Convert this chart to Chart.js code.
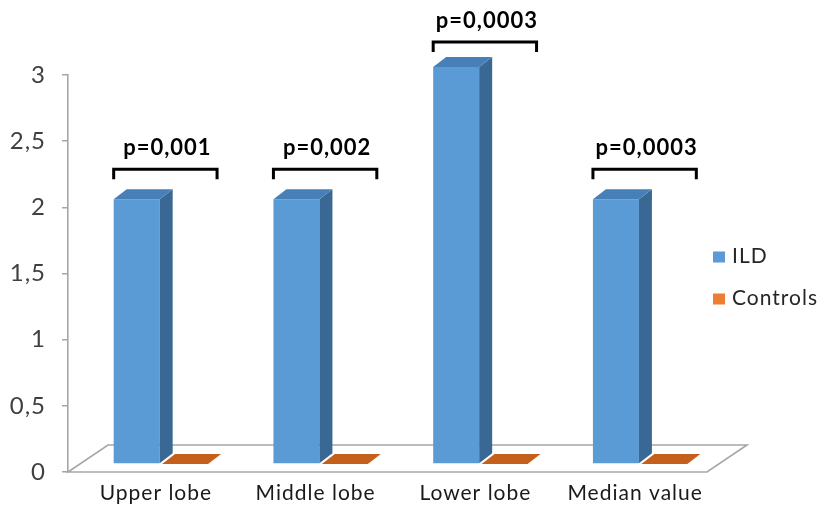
<!DOCTYPE html>
<html>
<head>
<meta charset="utf-8">
<script src="https://cdn.jsdelivr.net/npm/chart.js@4/dist/chart.umd.min.js"></script>
<style>
  html, body { margin: 0; padding: 0; background: #ffffff; }
  #wrap { width: 826px; height: 506px; }
</style>
</head>
<body>
<div id="wrap"><canvas id="c" width="826" height="506"></canvas></div>
<script>
// Lobar scores, ILD patients vs controls
const categories = ['Upper lobe', 'Middle lobe', 'Lower lobe', 'Median value'];
const seriesNames = ['ILD', 'Controls'];
const ildValues = [2, 2, 3, 2];
const controlValues = [0, 0, 0, 0];
const pLabels = ['p=0,001', 'p=0,002', 'p=0,0003', 'p=0,0003'];
const yTicks = [0, 0.5, 1, 1.5, 2, 2.5, 3];

// Colours: front face, side face, top face
const palette = {
  ILD:      { front: '#5b9bd5', side: '#3a6894', top: '#477fb8' },
  Controls: { front: '#ed7d31', side: '#a54f15', top: '#c55f1c' }
};

// Pseudo-3D geometry (pixels)
const FLOOR_DX = 40, FLOOR_DY = -27;      // depth of the floor plane
const BAR_SHIFT_X = 13, BAR_SHIFT_Y = -8; // bars stand part-way into the floor
const BAR_DX = 13, BAR_DY = -10;          // bar depth

const FONT = 'Lato, "Open Sans", "DejaVu Sans", sans-serif';

const threeD = {
  id: 'threeD',
  beforeDraw(chart) {
    // slightly wider lettering throughout
    chart.ctx.letterSpacing = '1px';
  },
  beforeDatasetsDraw(chart) {
    const { ctx, chartArea: a } = chart;
    // floor
    ctx.save();
    ctx.beginPath();
    ctx.moveTo(a.left, a.bottom);
    ctx.lineTo(a.right, a.bottom);
    ctx.lineTo(a.right + FLOOR_DX, a.bottom + FLOOR_DY);
    ctx.lineTo(a.left + FLOOR_DX, a.bottom + FLOOR_DY);
    ctx.closePath();
    ctx.fillStyle = '#ffffff';
    ctx.fill();
    ctx.strokeStyle = '#a6a6a6';
    ctx.lineWidth = 1.6;
    ctx.stroke();
    ctx.restore();
    // bars get drawn shifted back into the floor
    ctx.save();
    ctx.translate(BAR_SHIFT_X, BAR_SHIFT_Y);
  },
  afterDatasetsDraw(chart) {
    const { ctx } = chart;
    // side and top faces, last dataset first so the first sits in front
    for (let d = chart.data.datasets.length - 1; d >= 0; d--) {
      const meta = chart.getDatasetMeta(d);
      const col = palette[chart.data.datasets[d].label];
      meta.data.forEach(bar => {
        const { x, y, base, width } = bar.getProps(['x', 'y', 'base', 'width'], true);
        const l = x - width / 2, r = x + width / 2;
        if (base - y > 0.5) {
          ctx.beginPath();
          ctx.moveTo(r, y);
          ctx.lineTo(r + BAR_DX, y + BAR_DY);
          ctx.lineTo(r + BAR_DX, base + BAR_DY);
          ctx.lineTo(r, base);
          ctx.closePath();
          ctx.fillStyle = col.side;
          ctx.fill();
        }
        ctx.beginPath();
        ctx.moveTo(l, y);
        ctx.lineTo(r, y);
        ctx.lineTo(r + BAR_DX, y + BAR_DY);
        ctx.lineTo(l + BAR_DX, y + BAR_DY);
        ctx.closePath();
        ctx.fillStyle = col.top;
        ctx.fill();
      });
    }
    ctx.restore();
  },
  afterDraw(chart) {
    const { ctx, chartArea: a } = chart;
    // significance brackets over each category
    const ild = chart.getDatasetMeta(0).data;
    const ctl = chart.getDatasetMeta(1).data;
    ctx.save();
    ild.forEach((bar, i) => {
      const c = ctl[i];
      const x1 = bar.x - bar.width / 2 + BAR_SHIFT_X;
      const x2 = c.x + c.width / 2 + BAR_SHIFT_X + 9;
      const top = bar.y + BAR_SHIFT_Y;
      const yb = Math.max(top - 30, a.top - 33);
      ctx.beginPath();
      ctx.moveTo(x1, yb + 10);
      ctx.lineTo(x1, yb);
      ctx.lineTo(x2, yb);
      ctx.lineTo(x2, yb + 10);
      ctx.strokeStyle = '#000000';
      ctx.lineWidth = 3;
      ctx.lineJoin = 'miter';
      ctx.stroke();
      ctx.fillStyle = '#000000';
      ctx.font = 'bold 22px ' + FONT;
      ctx.textAlign = 'center';
      ctx.textBaseline = 'alphabetic';
      ctx.fillText(pLabels[i], (x1 + x2) / 2 + 2, yb - 14);
    });
    // legend
    const ly = (a.top + a.bottom) / 2;
    chart.data.datasets.forEach((ds, i) => {
      const cy = ly - 17 + i * 42;
      ctx.fillStyle = ds.backgroundColor;
      ctx.fillRect(a.right + 6, cy - 5, 12, 11);
      ctx.fillStyle = '#262626';
      ctx.font = '21px ' + FONT;
      ctx.textAlign = 'left';
      ctx.textBaseline = 'middle';
      ctx.fillText(ds.label, a.right + 25, cy);
    });
    ctx.restore();
  }
};

new Chart(document.getElementById('c'), {
  type: 'bar',
  data: {
    labels: categories,
    datasets: [
      { label: seriesNames[0], data: ildValues, backgroundColor: palette.ILD.front },
      { label: seriesNames[1], data: controlValues, backgroundColor: palette.Controls.front }
    ]
  },
  options: {
    responsive: false,
    animation: false,
    devicePixelRatio: 1,
    layout: { padding: { top: 75, right: 119, bottom: 0, left: 0 } },
    datasets: { bar: { categoryPercentage: 0.606, barPercentage: 0.95, borderWidth: 0 } },
    plugins: { legend: { display: false }, tooltip: { enabled: false } },
    scales: {
      x: {
        grid: { display: false },
        border: { display: false },
        ticks: { color: '#1a1a1a', font: { family: FONT, size: 21 }, padding: 1, labelOffset: 8 },
        afterFit(s) { s.height = 34; }
      },
      y: {
        min: 0,
        max: 3,
        afterBuildTicks(s) { s.ticks = yTicks.map(v => ({ value: v })); },
        grid: { display: true, drawOnChartArea: false, color: '#a6a6a6', tickLength: 6, lineWidth: 1.5 },
        border: { display: true, color: '#a6a6a6', width: 1.6 },
        ticks: {
          color: '#404040',
          font: { family: FONT, size: 24 },
          padding: 16,
          callback: v => String(v).replace('.', ',')
        },
        afterFit(s) { s.width = 68; }
      }
    }
  },
  plugins: [threeD]
});
</script>
</body>
</html>
